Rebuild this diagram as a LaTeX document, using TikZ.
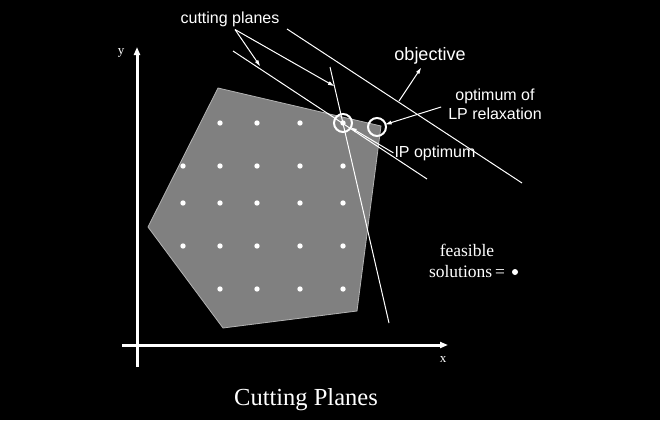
\documentclass[tikz,border=0pt]{standalone}
\usepackage{fontspec}
\setmainfont{Liberation Serif}
\newfontfamily\arial{Liberation Sans}
\usetikzlibrary{arrows.meta}
\tikzset{
ring/.style = {circle, draw=white, line width=2pt, minimum size=#1,
               inner sep=0pt, outer sep=0pt},
ring/.default = 18pt, % diameter of the optimum circles
tag/.style = {text=white, inner sep=0pt, font=\arial\fontsize{16}{19}\selectfont},
plane/.style = {white, line width=1pt},
pointer/.style = {white, line width=1pt, -{Triangle[length=6pt,width=3.5pt]}}
}

\begin{document}
\begin{tikzpicture}[x=1pt, y=-1pt]
	\def \dotsize{2.7pt}
	\def \axiswd{3pt}

	\fill[black] (0,0) rectangle (660,420);
	\useasboundingbox (0,0) rectangle (660,420);

	% Feasible region
	\fill[black!50!white, draw=black!30!white, line width=0.8pt]
		(218,88) -- (381,126) -- (357,311) -- (223,328) -- (148,227) -- cycle;

	% Axes
	\draw[white, line width=\axiswd, -{Triangle[length=8pt,width=6pt]}] (137,367) -- (137,47);
	\draw[white, line width=\axiswd, -{Triangle[length=8pt,width=6pt]}] (122,345) -- (448,345);
	\node[text=white, inner sep=0pt, anchor=base, font=\fontsize{13}{15}\selectfont] (ylab) at (121,55) {y};
	\node[text=white, inner sep=0pt, anchor=base, font=\fontsize{13}{15}\selectfont] (xlab) at (443,362) {x};

	% Dots
	\fill[white] (220,123) circle (\dotsize);
	\fill[white] (257,123) circle (\dotsize);
	\fill[white] (300,123) circle (\dotsize);
	\fill[white] (343,123) circle (\dotsize); % IP optimum

	\fill[white] (183,166) circle (\dotsize);
	\fill[white] (220,166) circle (\dotsize);
	\fill[white] (257,166) circle (\dotsize);
	\fill[white] (300,166) circle (\dotsize);
	\fill[white] (343,166) circle (\dotsize);

	\fill[white] (183,203) circle (\dotsize);
	\fill[white] (220,203) circle (\dotsize);
	\fill[white] (257,203) circle (\dotsize);
	\fill[white] (300,203) circle (\dotsize);
	\fill[white] (343,203) circle (\dotsize);

	\fill[white] (183,246) circle (\dotsize);
	\fill[white] (220,246) circle (\dotsize);
	\fill[white] (257,246) circle (\dotsize);
	\fill[white] (300,246) circle (\dotsize);
	\fill[white] (343,246) circle (\dotsize);

	\fill[white] (220,289) circle (\dotsize);
	\fill[white] (257,289) circle (\dotsize);
	\fill[white] (300,289) circle (\dotsize);
	\fill[white] (343,289) circle (\dotsize);

	% Objective and cutting planes
	\coordinate (objA) at (287,29);
	\coordinate (objB) at (522,183);
	\coordinate (cutA) at (233,51);
	\coordinate (cutB) at (427,179);
	\coordinate (cutC) at (330,67);
	\coordinate (cutD) at (389,323);
	\draw[plane] (objA) -- (objB);
	\draw[plane] (cutA) -- (cutB);
	\draw[plane] (cutC) -- (cutD);

	\coordinate (objhit) at (399,101);
	\coordinate (hitA) at (260,66);
	\coordinate (hitB) at (334,86);

	% Optima
	\node[ring] (ip) at (343,123) {};
	\node[ring] (lp) at (377,127) {};

	% Labels
	\node[tag, anchor=base, inner sep=2pt] (cutlab) at (230,24) {cutting planes};
	\node[tag, anchor=base, font=\arial\fontsize{18}{21}\selectfont] (objlab) at (430,60) {objective};
	\node[tag, align=center] (lplab) at (495,104) {optimum of\\LP relaxation};
	\node[tag, anchor=base] (iplab) at (435,157) {IP optimum};
	\node[text=white, inner sep=0pt, align=center, font=\fontsize{17.5}{21}\selectfont] (feaslab) at (467,261) {feasible\\solutions\,=};
	\fill[white] (515,272) circle (3pt);
	\node[text=white, inner sep=0pt, anchor=base, font=\fontsize{24.5}{28}\selectfont] (title) at (306,405) {Cutting Planes};

	% Pointers
	\draw[pointer] ([xshift=5pt]cutlab.south) -- (hitA);
	\draw[pointer] ([xshift=5pt]cutlab.south) -- (hitB);
	\draw[pointer] (objhit) -- ([xshift=-9pt,yshift=-4pt]objlab.south);
	\draw[pointer] ([xshift=-7pt,yshift=-3pt]lplab.west) -- (lp);
	\draw[pointer] ([xshift=-1pt]iplab.west) -- (ip);

\end{tikzpicture}
\end{document}
